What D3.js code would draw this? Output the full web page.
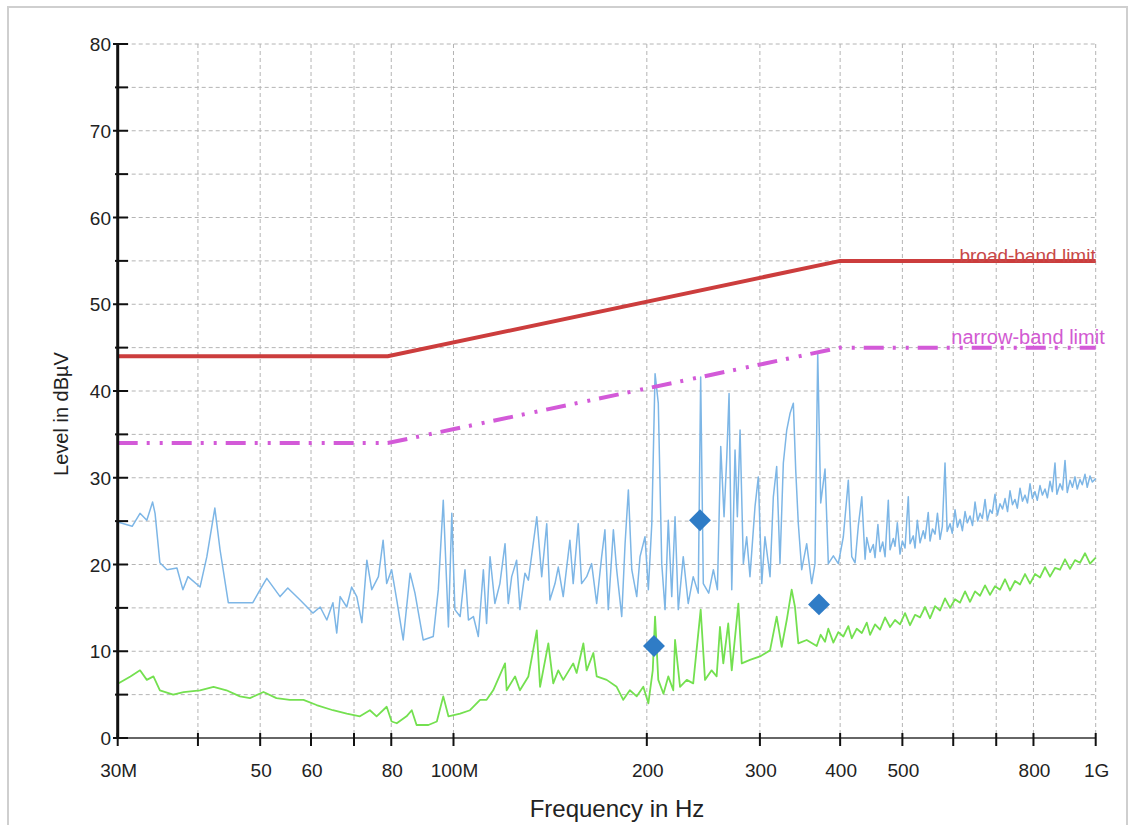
<!DOCTYPE html>
<html><head><meta charset="utf-8">
<script src="https://cdn.jsdelivr.net/npm/d3@7"></script>
<style>body{margin:0;background:#fff}svg{display:block}text{font-family:"Liberation Sans",Arial,sans-serif}</style>
</head><body>
<svg id="c" width="1136" height="825"></svg>
<script>
// ---- data ----
const xTickValues = [30,40,50,60,70,80,100,200,300,400,500,600,700,800,1000];
const xTickLabels = ["30M","","50","60","","80","100M","200","300","400","500","","","800","1G"];
const yMajorTicks = [0,10,20,30,40,50,60,70,80];
const yMinorTicks = [5,15,25,35,45,55,65,75];

const broadFreq = [30,79,400,1000];
const broadLevel = [44,44,55,55];
const narrowFreq = [30,79,400,1000];
const narrowLevel = [34,34,45,45];

const peakFreq = [30.0,31.6,32.5,33.3,34.0,34.3,34.9,35.8,37.1,37.9,38.6,40.3,41.3,42.5,43.3,44.6,46.5,48.7,50.0,51.2,53.7,55.2,57.7,60.4,62.0,63.5,64.9,65.8,66.6,68.2,69.4,70.7,72.0,73.3,74.6,76.4,77.7,78.7,80.1,81.6,83.5,85.6,87.1,89.7,93.0,94.7,96.4,98.2,99.4,100.5,102.4,104.2,105.5,107.4,109.3,111.3,112.6,114.0,116.0,118.1,120.3,121.7,123.2,125.4,126.9,129.2,130.8,134.8,137.2,139.7,141.3,143.9,145.6,148.2,151.8,153.6,156.4,158.3,161.2,164.1,167.1,170.1,172.1,174.2,177.4,179.5,182.8,185.0,187.2,189.5,192.9,195.2,198.7,201.1,203.6,206.0,208.4,211.0,213.5,216.0,218.7,221.3,223.9,227.9,232.0,236.2,240.5,242.6,244.9,249.7,253.9,257.6,260.7,263.8,266.4,268.6,271.2,274.4,276.7,279.4,282.7,286.1,289.5,294.8,298.3,302.0,305.5,311.1,314.8,318.6,322.4,326.3,330.3,334.2,338.2,341.1,344.3,348.5,354.8,361.2,365.5,369.1,373.1,378.9,383.4,390.4,397.4,404.6,411.9,417.0,422.0,427,432.3,437.4,440.1,445.3,450.5,453.3,458,461.5,466,469.9,475.4,478.4,484.0,487.0,491,495.8,500,504.8,510.7,513.9,519.9,523.2,527.5,532.7,538.9,542.3,548.6,552.1,557,562.1,567,572.3,577,582.6,587,593.2,598,603.9,609,614.8,620,626.0,631,637.2,643,648.8,655,660.6,666,672.5,678,684.6,690,697.0,703,709.6,716,722.5,729,735.5,742,748.8,755,762.4,769,776.2,783,790.2,797,804.4,811,819.0,826,833.8,841,848.9,856,864.2,870,879.9,888,895.8,903,912.0,920,928.5,936,945.3,953,962.4,970,979.8,988,1000];
const peakLevel = [24.9,24.4,25.9,25.1,27.2,25.9,20.2,19.4,19.6,17.1,18.6,17.4,20.9,26.5,21.7,15.6,15.6,15.6,17.1,18.4,16.3,17.3,15.9,14.4,15.1,13.6,15.6,12.1,16.3,15.1,17.4,16.3,13.3,20.5,17.1,18.6,22.8,17.8,19.4,15.9,11.3,19.0,16.7,11.3,11.7,17.1,27.4,12.8,25.9,14.8,14.0,19.4,13.6,14.0,11.7,19.4,13.2,20.9,15.5,17.8,22.4,15.5,18.6,20.5,14.8,19.0,18.2,25.5,18.6,24.7,15.9,17.8,19.7,16.3,22.8,17.8,24.7,17.8,18.6,20.1,15.5,20.9,24.0,14.8,24.0,19.4,14.0,22.4,28.6,19.4,16.3,20.9,23.2,17.1,24.7,42.0,38.6,20.1,14.8,25.1,16.3,25.5,14.8,20.9,15.5,18.6,16.7,41.6,17.8,16.7,19.4,17.1,33.6,25.5,32.4,39.7,17.1,33.2,25.5,35.5,20.1,23.2,18.6,26.7,30.1,17.8,23.2,18.6,27.8,31.3,20.1,31.7,35.5,37.4,38.6,30.9,24.7,19.4,22.4,17.8,20.1,44.3,27.1,31.0,20.1,21.0,20.1,23.2,29.7,20.9,20.2,24.5,27.8,20.6,23.1,21.4,22.3,20.8,24.6,21.5,22.6,20.9,27.4,21.7,23.0,22.1,24.8,21.2,22.7,21.9,27.8,22.4,23.3,21.9,25.1,22.5,23.9,23.0,26.0,22.7,24.1,23.5,25.9,22.9,24.4,31.7,23.8,24.7,23.6,26.3,24.3,25.2,23.9,26.1,24.8,25.6,24.5,27.2,25.0,25.9,25.3,27.5,25.1,26.3,25.9,28.1,25.7,27.0,26.4,27.6,26.1,28.5,26.9,27.5,26.5,28.8,27.3,28.0,27.1,29.3,27.6,28.4,27.4,29.1,28.0,28.7,27.7,29.6,28.4,31.7,28.1,29.3,28.6,32.0,28.3,29.7,28.9,30.1,28.7,29.8,29.2,30.4,28.9,30.2,29.5,29.9];

const avgFreq = [30.1,31.4,32.5,33.3,34.1,34.9,36.6,38.0,40.3,42.3,44.3,46.5,48.2,50.6,53.0,55.6,58.4,61.2,64.9,68.2,71.5,74.1,75.9,78.7,80.1,81.6,84.5,86.1,87.6,91.4,94.2,96.4,98.2,102.4,106.1,110.0,112.6,115.3,120.3,121.0,124.7,126.9,130.8,134.8,136.4,140.5,143.0,145.6,148.2,153.6,155.5,159.3,161.2,165.1,167.1,173.2,179.5,183.8,188.2,192.9,197.5,201.1,204.3,206.0,208.4,212.3,216.0,219.9,221.3,225.3,230.8,236.2,242.6,246.4,252.3,256.9,260.0,263.1,267.8,271.2,277.7,281.1,289.5,300.1,311.1,318.6,324.4,330.3,336.2,340.2,344.3,354.8,367.8,373,378.9,383.4,390.4,397.4,404.6,411.9,417.0,424.6,432.3,440.1,445.3,453.3,461.5,469.9,478.4,487.0,495.8,504.8,513.9,523.2,532.7,542.3,552.1,562.1,572.3,582.6,593.2,603.9,614.8,626.0,637.2,648.8,660.6,672.5,684.6,697.0,709.6,722.5,735.5,748.8,762.4,776.2,790.2,804.4,819.0,833.8,848.9,864.2,879.9,895.8,912.0,928.5,945.3,962.4,979.8,1000];
const avgLevel = [6.3,7.1,7.8,6.7,7.1,5.5,5.0,5.3,5.5,5.9,5.5,4.8,4.6,5.3,4.6,4.4,4.4,3.8,3.2,2.8,2.5,3.2,2.5,3.6,1.9,1.7,2.5,3.2,1.5,1.5,1.9,4.8,2.5,2.8,3.2,4.4,4.4,5.5,8.6,5.5,7.1,5.5,7.1,12.4,5.9,10.9,6.3,7.8,6.7,8.6,7.5,10.9,7.8,9.8,7.1,6.7,5.9,4.4,5.5,4.8,5.9,4.0,7.8,14.0,6.7,5.1,7.1,5.5,11.3,5.9,6.7,6.3,14.8,6.7,7.8,7.1,12.8,8.6,13.2,7.8,15.5,8.6,9.0,9.4,10.1,14.0,10.5,13.6,17.1,15.1,10.9,11.3,10.6,11.9,11.1,12.6,11.0,12.2,11.7,12.9,11.5,12.6,12.1,13.3,11.9,13.1,12.5,13.9,12.8,13.6,13.1,14.4,13.0,14.2,13.9,15.1,13.8,15.2,14.7,16.1,15.0,16.0,15.6,16.9,15.7,16.9,16.4,17.6,16.5,17.5,17.1,18.3,17.0,18.1,17.7,18.9,17.8,18.9,18.5,19.7,18.6,19.6,19.4,20.6,19.5,20.5,20.2,21.3,20.1,20.8];

const markerFreq = [205.2,242,370.8];
const markerLevel = [10.6,25.1,15.4];

// ---- drawing ----
const svg = d3.select("#c");
const x = d3.scaleLog().domain([30,1000]).range([117.7,1095.7]);
const y = d3.scaleLinear().domain([0,80]).range([738,44]);

svg.append("rect").attr("x",8).attr("y",7).attr("width",1119).attr("height",830)
  .attr("fill","none").attr("stroke","#cfcfcf").attr("stroke-width",2);

const grid = svg.append("g").attr("stroke","#b4b4b4").attr("stroke-width",1).attr("stroke-dasharray","4,3");
grid.selectAll("line.h").data(yMajorTicks.concat(yMinorTicks).filter(d=>d>0)).join("line")
  .attr("x1",x(30)).attr("x2",x(1000)).attr("y1",d=>y(d)).attr("y2",d=>y(d));
grid.selectAll("line.v").data(xTickValues.slice(1)).join("line").attr("class","v")
  .attr("x1",d=>x(d)).attr("x2",d=>x(d)).attr("y1",y(80)).attr("y2",y(0));

const line = (fs, ls) => d3.line().x((d,i)=>x(fs[i])).y((d,i)=>y(ls[i]))(fs);

// traces
svg.append("path").attr("d",line(peakFreq,peakLevel)).attr("fill","none")
  .attr("stroke","#7db6e6").attr("stroke-width",1.5).attr("stroke-linejoin","round");
svg.append("path").attr("d",line(avgFreq,avgLevel)).attr("fill","none")
  .attr("stroke","#74e050").attr("stroke-width",1.8).attr("stroke-linejoin","round");

// limits
svg.append("path").attr("d",line(broadFreq,broadLevel)).attr("fill","none")
  .attr("stroke","#cc3d3d").attr("stroke-width",4);
svg.append("path").attr("d",line(narrowFreq,narrowLevel)).attr("fill","none")
  .attr("stroke","#d35ad8").attr("stroke-width",4).attr("stroke-dasharray","20,9,3,10,3,9");

svg.append("text").attr("x",x(1000)).attr("y",y(55)+1).attr("text-anchor","end")
  .attr("font-size",19).attr("fill","#c84848").text("broad-band limit");
svg.append("text").attr("x",x(1000)+9).attr("y",y(45)-4).attr("text-anchor","end")
  .attr("font-size",20).attr("fill","#d25ad2").text("narrow-band limit");

// markers
svg.selectAll("path.mk").data(markerFreq).join("path").attr("class","mk")
  .attr("d",d3.symbol(d3.symbolSquare,240)())
  .attr("transform",(d,i)=>`translate(${x(d)},${y(markerLevel[i])}) rotate(45)`)
  .attr("fill","#2f7cc6");

// axes
svg.append("line").attr("x1",x(30)).attr("x2",x(1000)).attr("y1",y(0)).attr("y2",y(0))
  .attr("stroke","#333").attr("stroke-width",1.5);
svg.append("line").attr("x1",x(30)).attr("x2",x(30)).attr("y1",y(80)).attr("y2",y(0))
  .attr("stroke","#111").attr("stroke-width",3);

svg.selectAll("line.xt").data(xTickValues).join("line").attr("class","xt")
  .attr("x1",d=>x(d)).attr("x2",d=>x(d)).attr("y1",y(0)-5).attr("y2",y(0)+8)
  .attr("stroke","#111").attr("stroke-width",2);
svg.selectAll("text.xl").data(xTickValues).join("text").attr("class","xl")
  .attr("x",d=>x(d)+1).attr("y",777).attr("text-anchor","middle").attr("font-size",19).attr("fill","#222")
  .text((d,i)=>xTickLabels[i]);

svg.selectAll("line.ymj").data(yMajorTicks).join("line").attr("class","ymj")
  .attr("x1",113).attr("x2",128).attr("y1",d=>y(d)).attr("y2",d=>y(d)).attr("stroke","#111").attr("stroke-width",2);
svg.selectAll("line.ymn").data(yMinorTicks).join("line").attr("class","ymn")
  .attr("x1",115).attr("x2",128).attr("y1",d=>y(d)).attr("y2",d=>y(d)).attr("stroke","#111").attr("stroke-width",2);
svg.selectAll("text.yl").data(yMajorTicks).join("text").attr("class","yl")
  .attr("x",111).attr("y",d=>y(d)+7).attr("text-anchor","end").attr("font-size",19).attr("fill","#222")
  .text(d=>d);

svg.append("text").attr("x",617).attr("y",817).attr("text-anchor","middle").attr("font-size",24)
  .attr("fill","#222").text("Frequency in Hz");
svg.append("text").attr("transform","translate(68,414) rotate(-90)").attr("text-anchor","middle")
  .attr("font-size",20).attr("fill","#222").text("Level in dBµV");
</script>
</body></html>
